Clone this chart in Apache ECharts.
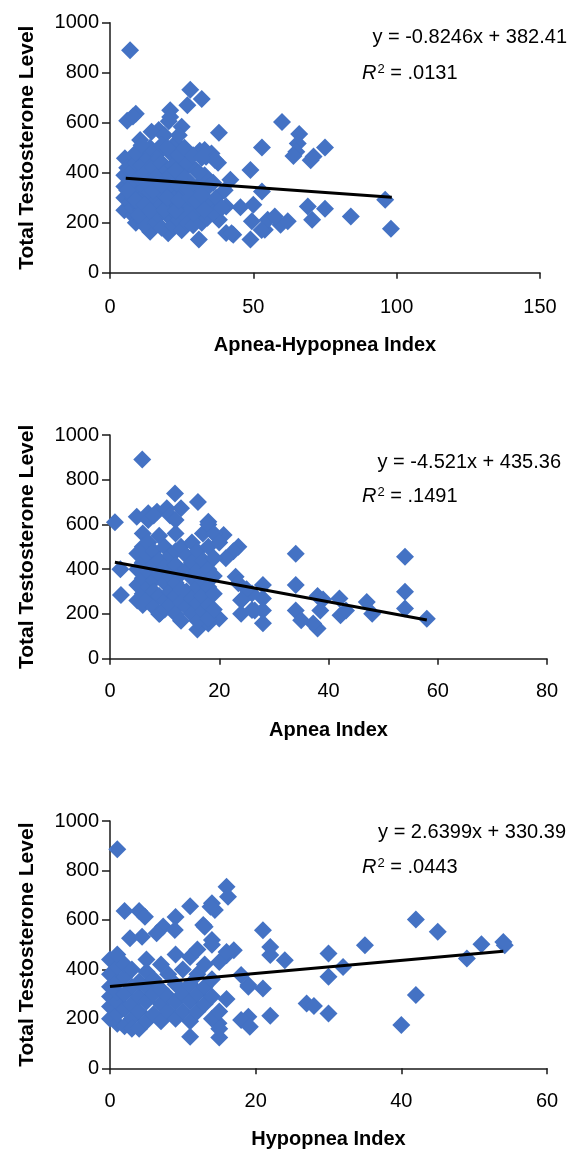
<!DOCTYPE html>
<html>
<head>
<meta charset="utf-8">
<script src="https://cdn.jsdelivr.net/npm/echarts@6/dist/echarts.min.js"></script>
<style>
html,body{margin:0;padding:0;background:#fff;}
#chart{width:572px;height:1155px;}
</style>
</head>
<body>
<div id="chart"></div>
<script>
// ---------- DATA ----------
const yTitle = 'Total Testosterone Level';
const xTitles = ['Apnea-Hypopnea Index', 'Apnea Index', 'Hypopnea Index'];
const equations = ['y = -0.8246x + 382.41', 'y = -4.521x + 435.36', 'y = 2.6399x + 330.39'];
const r2Values = ['.0131', '.1491', '.0443'];
const xMax = [150, 80, 60];
const xInterval = [50, 20, 20];

// Plot 1: Apnea-Hypopnea Index vs testosterone
const ahiPoints = [
 [7,890],[28,732],[27,670],[32,695],[6,608],[9,636],[8,625],[21,650],[21,623],[20.5,606],
 [38,560],[60,603],[66,555],[65.5,517],[65,484],[64,467],[70,450],[71,465],[75,501],[53,501],
 [49,411],[42,372],[53,325],[45.5,262],[50,272],[49,133],[31,133],[40.5,159],[43,152],[49.5,206],
 [54,172],[55,212],[59.5,192],[62,206],[57.5,225],[69,265],[70.5,212],[75,256],[84,225],[96,292],
 [98,176],[37.7,440],[35.4,477],[33.5,464],[31.3,488],[38,212],[36.6,265],[40.5,265],[36.6,451],[33,491],
 [25,584],[17,571],[14.5,564],[10.5,531],[5.2,458],[14,164],[20.3,158],[42.4,158],[52.9,171],
 [5,250],[5,300],[5,345],[5,390],[6,420],[7,280],[7,330],[7,370],[8,230],[8,260],[8,300],[8,410],
 [9,200],[9,350],[9,440],[10,270],[10,320],[10,380],[11,210],[11,250],[11,300],[11,430],
 [12,190],[12,340],[12,400],[13,230],[13,280],[13,450],[14,320],[14,370],[15,250],[15,420],
 [16,200],[16,290],[16,470],[17,230],[17,340],[17,390],[18,180],[18,270],[18,440],[19,310],
 [19,360],[19,550],[20,230],[20,410],[21,280],[21,480],[21,330],[22,190],[22,250],[22,380],
 [22,430],[23,300],[23,520],[24,210],[24,350],[24,470],[25,170],[25,260],[25,400],[26,230],
 [26,320],[26,500],[27,200],[27,280],[27,440],[28,360],[28,250],[29,190],[29,310],[29,470],
 [30,230],[30,410],[31,280],[31,350],[32,200],[32,250],[32,460],[33,300],[33,390],[34,220],
 [34,340],[35,270],[36,240],[36,360],[37,300],[39,260],[40,330],
 [6,330],[9,290],[10,230],[12,270],[13,360],[14,250],[15,330],[16,380],[18,350],[19,250],
 [20,300],[21,390],[23,250],[23,410],[24,290],[26,380],[27,340],[28,300],[30,290],[31,400],
 [32,310],[33,250],[12,470],[14,500],[18,510],[20,500],[24,550],[9,480],[11,510]
];
// Plot 2: Apnea Index vs testosterone
const apneaPoints = [
 [5.9,891],[0.9,610],[1.9,400],[2,285],[11.9,739],[16.1,700],[13,672],[4.9,635],[7,650],[8.6,657],
 [10.4,672],[18,612],[20.8,553],[23.5,501],[22.6,480],[21.2,449],[34,469],[54,456],[34,329],[54,299],
 [54,224],[58,179],[47,254],[48,201],[42,269],[42.2,194],[43.2,216],[38,280],[39,265],[38.5,216],
 [38,135],[37.2,157],[34,216],[35,172],[28,330],[28,269],[28,216],[28,158],[23,366],[24,261],
 [24,201],[26,291],[26.5,216],[25,310],[20,180],[16,130],[18,157],[24.1,262],[26,218],[9.2,203],[23.5,337],
 [5,470],[5,400],[5,330],[5,260],[6,560],[6,500],[6,430],[6,360],[6,290],[6,240],
 [7,620],[7,520],[7,460],[7,390],[7,320],[7,270],[8,640],[8,480],[8,420],[8,350],
 [8,300],[8,230],[9,550],[9,440],[9,380],[9,280],[9,200],[10,500],[10,410],[10,340],
 [10,260],[10,220],[11,640],[11,460],[11,370],[11,300],[11,240],[12,560],[12,620],[12,480],
 [12,420],[12,340],[12,280],[12,200],[13,500],[13,380],[13,310],[13,250],[13,170],[14,460],
 [14,400],[14,300],[14,230],[15,520],[15,430],[15,360],[15,270],[15,200],[16,480],[16,390],
 [16,320],[16,250],[16,170],[17,560],[17,440],[17,350],[17,280],[17,210],[18,600],[18,500],
 [18,400],[18,320],[18,240],[18,180],[19,560],[19,450],[19,370],[19,290],[19,220],[20,520]
];
// Plot 3: Hypopnea Index vs testosterone
const hypopneaPoints = [
 [1,886],[16,734],[16.2,694],[11,655],[2,636],[4,636],[4.8,613],[9,612],[14,667],[14.4,640],
 [13.8,653],[12.8,579],[7.3,573],[8.9,559],[2.75,526],[4.4,532],[6.4,546],[21,558],[42,602],[45,552],
 [35,498],[51,502],[54,511],[54.2,498],[49,444],[30,464],[30,370],[32,410],[24,437],[22,491],
 [22,458],[17,477],[16,457],[14,519],[21,323],[19,337],[27,262],[28,252],[30,222],[22,212],
 [42,296],[40,175],[19,208],[18,195],[19.2,168],[18,377],[19,330],[15,125],[11,128],[14.9,182],[13,572],
 [0,200],[0,250],[0,290],[0,330],[0,380],[0,440],[1,180],[1,220],[1,270],[1,310],
 [1,350],[1,410],[1,460],[2,170],[2,240],[2,300],[2,370],[2,420],[3,200],[3,260],
 [3,330],[3,400],[3,160],[4,230],[4,290],[4,350],[4,160],[5,190],[5,270],[5,330],
 [5,390],[5,440],[6,220],[6,300],[6,360],[7,190],[7,260],[7,320],[7,420],[8,230],
 [8,290],[8,380],[9,200],[9,270],[9,340],[9,460],[10,230],[10,300],[10,400],[11,190],
 [11,270],[11,340],[11,450],[12,230],[12,300],[12,380],[12,480],[13,260],[13,330],[13,420],
 [14,200],[14,290],[14,360],[14,500],[15,160],[15,230],[15,430],[16,280],[16,470]
];
// Trend line endpoints
const trendLines = [
 [[5.5,377.9],[98.3,301.4]],
 [[0.9,431.3],[58,173.1]],
 [[0,330.4],[54,472.9]]
];

// ---------- LAYOUT ----------
const FONT = "'Liberation Sans','Arial',sans-serif";
const grids = [
 {left:110, top:22.7, width:430, height:250},
 {left:110, top:435, width:437, height:223.7},
 {left:110, top:821, width:437, height:247.3}
];
const nameGapsX = [63, 62, 61];
const labelMarginX = [25, 23, 23];
const eqPos = [[567,37.5,362,73],[561,462,362,496],[566,832,362,867]];
const allPoints = [ahiPoints, apneaPoints, hypopneaPoints];
const axisColor = '#1a1a1a';

const xAxes = [], yAxes = [], series = [], graphics = [];
for (let i = 0; i < 3; i++) {
  xAxes.push({
    type:'value', gridIndex:i, min:0, max:xMax[i], interval:xInterval[i],
    splitLine:{show:false},
    axisLine:{onZero:false, lineStyle:{color:axisColor, width:1.5}},
    axisTick:{show:true, length:6, lineStyle:{color:axisColor, width:1.5}},
    axisLabel:{color:'#000', fontSize:20, fontFamily:FONT, margin:labelMarginX[i],
      formatter:function(v){return String(v);}},
    name:xTitles[i], nameLocation:'middle', nameGap:nameGapsX[i],
    nameTextStyle:{color:'#000', fontSize:20, fontWeight:'bold', fontFamily:FONT}
  });
  yAxes.push({
    type:'value', gridIndex:i, min:0, max:1000, interval:200,
    splitLine:{show:false},
    axisLine:{show:true, lineStyle:{color:axisColor, width:1.5}},
    axisTick:{show:true, length:8, lineStyle:{color:axisColor, width:1.5}},
    axisLabel:{color:'#000', fontSize:20, fontFamily:FONT, margin:11,
      formatter:function(v){return String(v);}},
    name:yTitle, nameLocation:'middle', nameGap:72,
    nameTextStyle:{color:'#000', fontSize:21, fontWeight:'bold', fontFamily:FONT}
  });
  series.push({
    type:'scatter', xAxisIndex:i, yAxisIndex:i, data:allPoints[i],
    symbol:'diamond', symbolSize:18,
    itemStyle:{color:'#4472C4', opacity:1},
    emphasis:{disabled:true}, z:2
  });
  series.push({
    type:'line', xAxisIndex:i, yAxisIndex:i, data:trendLines[i],
    symbol:'none', lineStyle:{color:'#000', width:3}, z:3, silent:true
  });
  const p = eqPos[i];
  graphics.push({
    type:'text', x:p[0], y:p[1], z:10,
    style:{text:equations[i], align:'right', verticalAlign:'middle',
      fontSize:20, fontFamily:FONT, fill:'#000'}
  });
  graphics.push({
    type:'text', x:p[2], y:p[3], z:10,
    style:{text:'{it|R}{sup|2}{n| = ' + r2Values[i] + '}', align:'left', verticalAlign:'middle',
      fontSize:20, fontFamily:FONT, fill:'#000',
      rich:{
        it:{fontStyle:'italic', fontSize:20, fontFamily:FONT, fill:'#000', verticalAlign:'middle'},
        sup:{fontSize:13, fontFamily:FONT, fill:'#000', verticalAlign:'top', padding:[0,0,8,1]},
        n:{fontSize:20, fontFamily:FONT, fill:'#000', verticalAlign:'middle'}
      }}
  });
}

const chart = echarts.init(document.getElementById('chart'), null, {renderer:'canvas'});
chart.setOption({
  animation:false,
  backgroundColor:'#fff',
  grid:grids,
  xAxis:xAxes,
  yAxis:yAxes,
  series:series,
  graphic:graphics
});
</script>
</body>
</html>
